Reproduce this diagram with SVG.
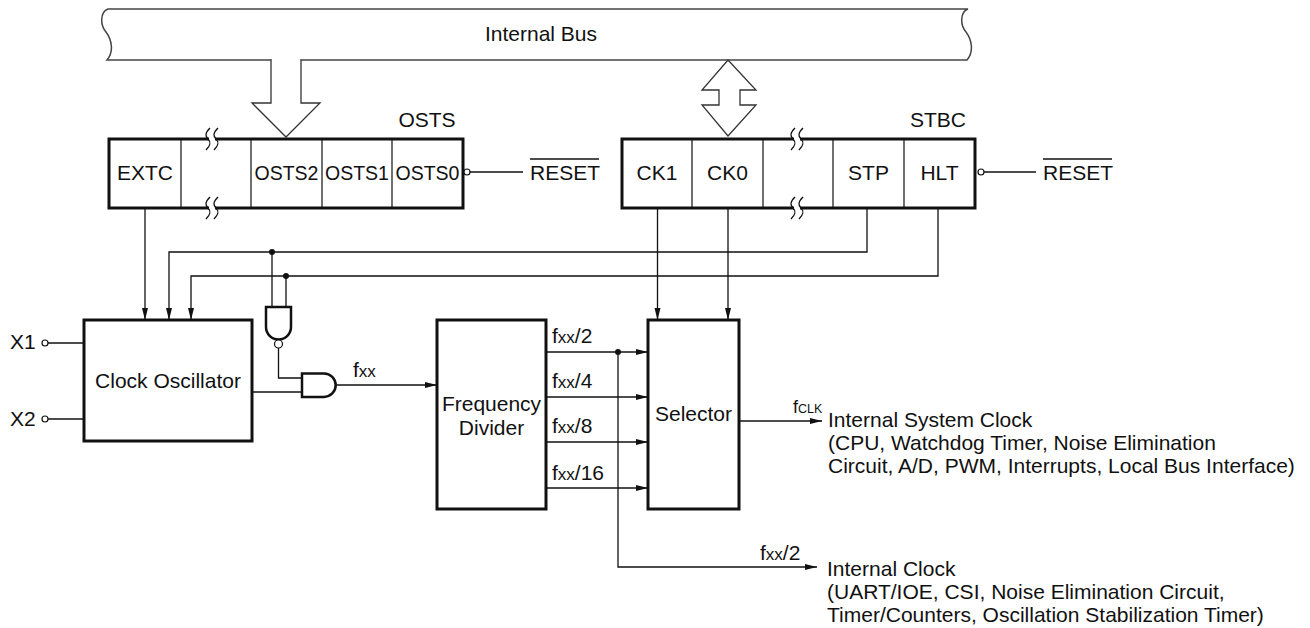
<svg xmlns="http://www.w3.org/2000/svg" xmlns:xlink="http://www.w3.org/1999/xlink" width="1310" height="628" viewBox="0 0 1310 628">
<style>
text{font-family:"Liberation Sans",Arial,Helvetica,sans-serif;font-size:21px;fill:#111}
.mid{text-anchor:middle}
.box{fill:#fff;stroke:#111;stroke-width:3}
.cell{stroke:#111;stroke-width:1.2;fill:none}
.ln{stroke:#111;stroke-width:1.3;fill:none}
.bus{stroke:#444;stroke-width:1.5;fill:#fff}
.arr{marker-end:url(#ah)}
.sq{stroke:#111;stroke-width:1.3;fill:none}
.sub{font-size:17px}
.sm{font-size:12.5px}
</style>
<defs>
<marker id="ah" markerUnits="userSpaceOnUse" markerWidth="13" markerHeight="7" refX="12" refY="3" orient="auto">
<path d="M0,0 L12,3 L0,6 Z" fill="#111"/>
</marker>
<path id="sq" d="M2,-11 C-3,-6 -3,-3 0,0 C3,3 3,6 -2,11"/>
</defs>

<g id="internal-bus">
<path class="bus" d="M108,9 H968 C960,12 960,25 966,32 C972,40 974,52 967,60 H107 C114,52 112,40 106,32 C100,25 100,12 108,9 Z"/>
<path d="M271,60 V103 H252 L286,137 L320,103 H301 V60" fill="#fff" stroke="#333" stroke-width="1.3"/>
<line x1="272" y1="60" x2="300" y2="60" stroke="#fff" stroke-width="2.5"/>
<path d="M728,60 L756,90 H740 V105 H756 L728,136 L702,105 H719 V90 H702 Z" fill="#fff" stroke="#333" stroke-width="1.3"/>
<text class="mid" x="541" y="41">Internal Bus</text>
</g>

<g id="osts">
<rect class="box" x="109" y="139" width="354" height="69"/>
<path class="cell" d="M181,139 V208 M251,139 V208 M322,139 V208 M392,139 V208"/>
<rect x="209" y="135" width="6" height="8" fill="#fff"/>
<rect x="209" y="204" width="6" height="8" fill="#fff"/>
<use xlink:href="#sq" x="208" y="139" class="sq"/>
<use xlink:href="#sq" x="216" y="139" class="sq"/>
<use xlink:href="#sq" x="208" y="208" class="sq"/>
<use xlink:href="#sq" x="216" y="208" class="sq"/>
<text class="mid" x="427" y="127">OSTS</text>
<text class="mid" x="145" y="180">EXTC</text>
<text class="mid" x="286.5" y="180" style="font-size:19.5px">OSTS2</text>
<text class="mid" x="357" y="180" style="font-size:19.5px">OSTS1</text>
<text class="mid" x="427.5" y="180" style="font-size:19.5px">OSTS0</text>
<circle cx="467" cy="172" r="3" fill="#fff" stroke="#111" stroke-width="1.2"/>
<line class="ln" x1="470" y1="172" x2="523" y2="172"/>
<text x="530" y="180">RESET</text>
<line class="ln" x1="530" y1="159" x2="599" y2="159"/>
</g>

<g id="stbc">
<rect class="box" x="622" y="139" width="353" height="69"/>
<path class="cell" d="M692,139 V208 M763,139 V208 M833,139 V208 M904,139 V208"/>
<rect x="794" y="135" width="6" height="8" fill="#fff"/>
<rect x="794" y="204" width="6" height="8" fill="#fff"/>
<use xlink:href="#sq" x="793" y="139" class="sq"/>
<use xlink:href="#sq" x="801" y="139" class="sq"/>
<use xlink:href="#sq" x="793" y="208" class="sq"/>
<use xlink:href="#sq" x="801" y="208" class="sq"/>
<text class="mid" x="938" y="127">STBC</text>
<text class="mid" x="657" y="180">CK1</text>
<text class="mid" x="727.5" y="180">CK0</text>
<text class="mid" x="868.5" y="180">STP</text>
<text class="mid" x="939.5" y="180">HLT</text>
<circle cx="981" cy="172" r="3" fill="#fff" stroke="#111" stroke-width="1.2"/>
<line class="ln" x1="984" y1="172" x2="1036" y2="172"/>
<text x="1043" y="180">RESET</text>
<line class="ln" x1="1043" y1="159" x2="1112" y2="159"/>
</g>

<g id="x1">
<text x="10" y="349">X1</text>
<circle cx="45" cy="343" r="3" fill="#fff" stroke="#111" stroke-width="1.2"/>
</g>
<g id="x2">
<text x="10" y="426">X2</text>
<circle cx="45" cy="419" r="3" fill="#fff" stroke="#111" stroke-width="1.2"/>
</g>

<g id="clock-oscillator">
<rect class="box" x="84" y="320" width="168" height="121"/>
<text class="mid" x="168" y="388">Clock Oscillator</text>
</g>

<g id="nand-gate">
<path d="M266,307 H291 V327 A12.5,12.5 0 0 1 266,327 Z" fill="#fff" stroke="#111" stroke-width="2.5"/>
<circle cx="278.5" cy="344" r="4" fill="#fff" stroke="#111" stroke-width="1.2"/>
</g>

<g id="and-gate">
<path d="M302,373.5 H324 A11.7,11.7 0 0 1 324,396.9 H302 Z" fill="#fff" stroke="#111" stroke-width="2.5"/>
</g>

<g id="frequency-divider">
<rect class="box" x="437" y="320" width="109" height="189"/>
<text class="mid" x="491.5" y="411">Frequency</text>
<text class="mid" x="491.5" y="435">Divider</text>
</g>

<g id="selector">
<rect class="box" x="648" y="320" width="91" height="189"/>
<text class="mid" x="693.5" y="421">Selector</text>
</g>

<g id="system-clock-label">
<text x="828" y="427">Internal System Clock</text>
<text x="828" y="450">(CPU, Watchdog Timer, Noise Elimination</text>
<text x="828" y="473">Circuit, A/D, PWM, Interrupts, Local Bus Interface)</text>
</g>

<g id="internal-clock-label">
<text x="827" y="576">Internal Clock</text>
<text x="827" y="599">(UART/IOE, CSI, Noise Elimination Circuit,</text>
<text x="827" y="622">Timer/Counters, Oscillation Stabilization Timer)</text>
</g>

<g id="connectors">
<line class="ln" x1="48" y1="343" x2="84" y2="343"/>
<line class="ln" x1="48" y1="419" x2="84" y2="419"/>
<polyline class="ln arr" points="145,208 145,320"/>
<polyline class="ln arr" points="867,208 867,252 169,252 169,320"/>
<polyline class="ln arr" points="938,208 938,276 191,276 191,320"/>
<polyline class="ln arr" points="657.5,208 657.5,320"/>
<polyline class="ln arr" points="728,208 728,320"/>
<circle cx="272" cy="252" r="3" fill="#111"/>
<circle cx="286" cy="276" r="3" fill="#111"/>
<line class="ln" x1="272" y1="252" x2="272" y2="307"/>
<line class="ln" x1="286" y1="276" x2="286" y2="307"/>
<polyline class="ln" points="278.5,348 278.5,378 302,378"/>
<line class="ln" x1="252" y1="392" x2="302" y2="392"/>
<line class="ln arr" x1="336" y1="385" x2="437" y2="385"/>
<text x="353" y="377">f<tspan class="sub">xx</tspan></text>
<line class="ln arr" x1="546" y1="352" x2="648" y2="352"/>
<line class="ln arr" x1="546" y1="397" x2="648" y2="397"/>
<line class="ln arr" x1="546" y1="442" x2="648" y2="442"/>
<line class="ln arr" x1="546" y1="488" x2="648" y2="488"/>
<text x="552" y="343">f<tspan class="sub">xx</tspan>/2</text>
<text x="552" y="388">f<tspan class="sub">xx</tspan>/4</text>
<text x="552" y="433">f<tspan class="sub">xx</tspan>/8</text>
<text x="552" y="480">f<tspan class="sub">xx</tspan>/16</text>
<circle cx="618" cy="352" r="3" fill="#111"/>
<polyline class="ln arr" points="618,352 618,567 817,567"/>
<text x="760" y="560">f<tspan class="sub">xx</tspan>/2</text>
<line class="ln arr" x1="739" y1="421" x2="822" y2="421"/>
<text x="793" y="413" style="font-size:18px">f<tspan class="sm">CLK</tspan></text>
</g>
</svg>
